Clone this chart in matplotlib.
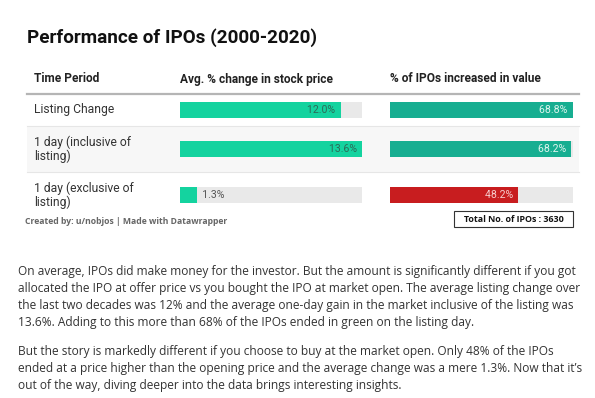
import numpy as np
import matplotlib
matplotlib.use('Agg')
import matplotlib.pyplot as plt
from matplotlib.patches import Rectangle

# chart data
periods = ["Listing Change", "1 day (inclusive of\nlisting)", "1 day (exclusive of\nlisting)"]
avg_change = [12.0, 13.6, 1.3]
pct_increased = [68.8, 68.2, 48.2]
total_ipos = 3630

title = "Performance of IPOs (2000-2020)"
headers = ["Time Period", "Avg. % change in stock price", "% of IPOs increased in value"]
credit = "Created by: u/nobjos | Made with Datawrapper"
paragraphs = [
    ["On average, IPOs did make money for the investor. But the amount is significantly different if you got",
     "allocated the IPO at offer price vs you bought the IPO at market open. The average listing change over",
     "the last two decades was 12% and the average one-day gain in the market inclusive of the listing was",
     "13.6%. Adding to this more than 68% of the IPOs ended in green on the listing day."],
    ["But the story is markedly different if you choose to buy at the market open. Only 48% of the IPOs",
     "ended at a price higher than the opening price and the average change was a mere 1.3%. Now that it\u2019s",
     "out of the way, diving deeper into the data brings interesting insights."],
]

W, H = 595, 398
GREEN = "#14d39f"
TEAL = "#17ae91"
RED = "#c81d1f"
TRACK = "#e9e9e9"

fig = plt.figure(figsize=(W / 100, H / 100), dpi=100)
fig.patch.set_facecolor("white")
bg = fig.add_axes([0, 0, 1, 1])
bg.set_xlim(0, W)
bg.set_ylim(H, 0)
bg.axis("off")

# table layout (pixels)
row_top = 94
row_heights = [32, 46, 46]
row_edges = np.concatenate([[row_top], row_top + np.cumsum(row_heights)])
row_centers = (row_edges[:-1] + row_edges[1:]) / 2
table_left, table_right = 27, 579

bg.text(table_left, 38, title, fontsize=13.6, fontweight="bold", family="Roboto",
        color="#111111", va="center", ha="left")

header_x = [34, 180, 390]
for hx, h in zip(header_x, headers):
    bg.text(hx, 79, h, fontsize=8.6, fontweight="bold", family="Roboto",
            color="#222222", va="center", ha="left")
bg.plot([table_left, table_right], [row_edges[0], row_edges[0]], color="#b5b5b5", lw=1.6)

for i in range(len(periods)):
    if i == 1:
        bg.add_patch(Rectangle((table_left, row_edges[i]), table_right - table_left,
                               row_heights[i], facecolor="#f7f7f7", edgecolor="none"))
    if i > 0:
        bg.plot([table_left, table_right], [row_edges[i], row_edges[i]], color="#e6e6e6", lw=0.8)
    bg.text(34, row_centers[i], periods[i], fontsize=8.7, family="Roboto", color="#333333",
            va="center", ha="left", linespacing=1.05)

bar_h = 16


def bar_axes(x0, x1, vmax):
    ax = fig.add_axes([x0 / W, 1 - row_edges[-1] / H, (x1 - x0) / W,
                       (row_edges[-1] - row_edges[0]) / H])
    ax.set_xlim(0, vmax)
    ax.set_ylim(row_edges[-1], row_edges[0])
    ax.axis("off")
    ax.patch.set_alpha(0)
    return ax


axl = bar_axes(180, 362, max(avg_change))
axl.barh(row_centers, [max(avg_change)] * 3, height=bar_h, color=TRACK)
axl.barh(row_centers, avg_change, height=bar_h, color=GREEN)
for y, v in zip(row_centers, avg_change):
    if v > 3:
        axl.text(v, y, f"{v:.1f}%  ", fontsize=7.6, family="Roboto", color="#2c6a58",
                 va="center", ha="right")
    else:
        axl.text(v, y, f"  {v:.1f}%", fontsize=7.6, family="Roboto", color="#555555",
                 va="center", ha="left")

axr = bar_axes(390, 573, max(pct_increased))
colors_r = [TEAL, TEAL, RED]
label_r = ["#dff5ee", "#dff5ee", "#f6cccc"]
axr.barh(row_centers, [max(pct_increased)] * 3, height=bar_h, color=TRACK)
axr.barh(row_centers, pct_increased, height=bar_h, color=colors_r)
for y, v, c in zip(row_centers, pct_increased, label_r):
    axr.text(v, y, f"{v:.1f}%  ", fontsize=7.6, family="Roboto", color=c,
             va="center", ha="right")

bg.text(25, 221, credit, fontsize=6.2, fontweight="bold", family="Open Sans",
        color="#666666", va="center", ha="left")
bg.add_patch(Rectangle((454, 211), 119, 16, facecolor="white", edgecolor="#333333", lw=0.8))
bg.text(513.5, 219, f"Total No. of IPOs : {total_ipos}", fontsize=6.4, fontweight="bold",
        family="Open Sans", color="#111111", va="center", ha="center")

y = 272
for para in paragraphs:
    for line in para:
        bg.text(18, y, line, fontsize=8.6, family="Open Sans", color="#333333",
                va="center", ha="left")
        y += 16.7
    y += 13

fig.savefig("out.png", dpi=100)
